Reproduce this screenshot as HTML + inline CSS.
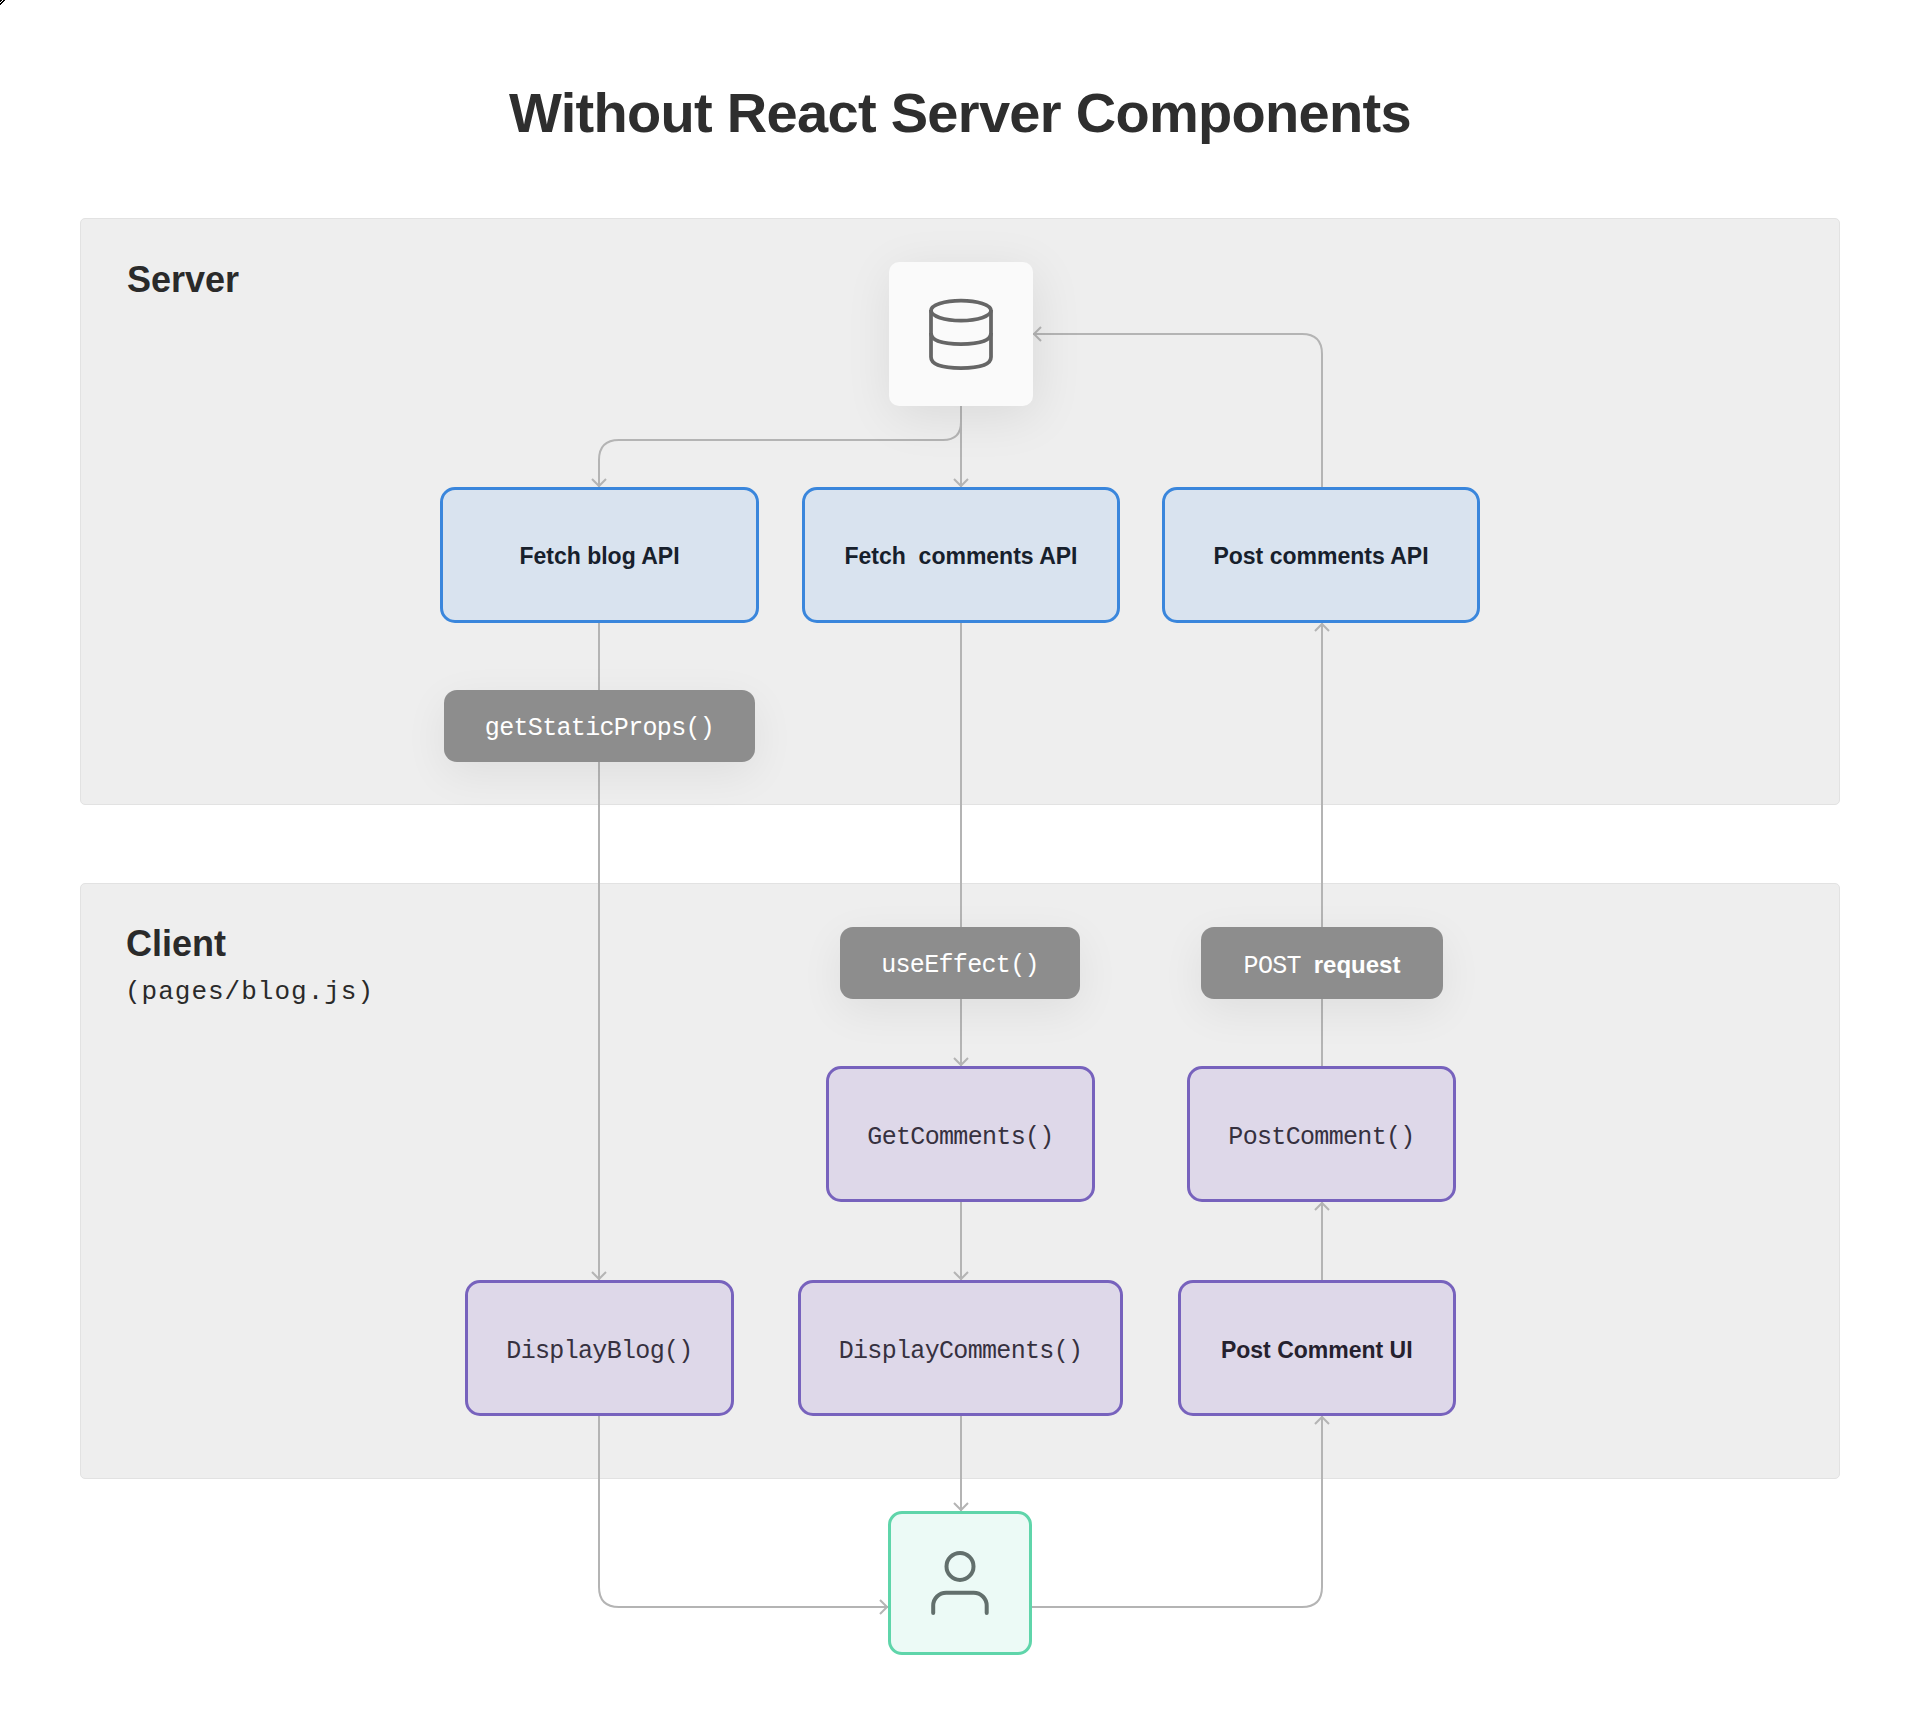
<!DOCTYPE html>
<html>
<head>
<meta charset="utf-8">
<style>
html,body{margin:0;padding:0;}
body{width:1920px;height:1733px;position:relative;overflow:hidden;background:#ffffff;font-family:"Liberation Sans",sans-serif;}
.abs{position:absolute;box-sizing:border-box;}
.title{position:absolute;left:0;width:1920px;top:68px;text-align:center;font-weight:bold;font-size:56px;line-height:90px;letter-spacing:-0.7px;color:#2e2e2e;}
.panel{position:absolute;left:80px;width:1760px;background:#eeeeee;border:1px solid #e2e2e2;border-radius:5px;box-sizing:border-box;}
.plabel{position:absolute;font-weight:bold;font-size:36px;color:#2a2a2a;line-height:40px;white-space:nowrap;}
.mono{font-family:"Liberation Mono",monospace;}
.box{position:absolute;box-sizing:border-box;border-radius:15px;display:flex;align-items:center;justify-content:center;white-space:nowrap;}
.blue{border:3px solid #3a86dc;background:#d9e3ef;color:#17202c;font-weight:bold;font-size:23px;padding-top:2px;}
.purple{border:3px solid #7762bd;background:#ded8e9;color:#25212e;font-size:23px;padding-top:4px;}
.pill{background:#8d8d8d;color:#ffffff;font-size:23px;border-radius:13px;box-shadow:0 12px 44px rgba(0,0,0,0.065);padding-top:4px;}
.db{background:#fafafa;border-radius:10px;box-shadow:3px 10px 50px rgba(0,0,0,0.085);}
.user{border:3px solid #5fd5aa;background:#ecfaf6;border-radius:14px;}
svg{position:absolute;left:0;top:0;}
.box.mono{font-size:25px;letter-spacing:-0.67px;}
.box.purple.mono{padding-top:6px;color:#36313f;}
</style>
</head>
<body>
<svg width="8" height="8" viewBox="0 0 8 8" style="position:absolute;left:0;top:0;"><path d="M0 0h2v1H1v1H0z M3 0h2v1H4v1H3v1H2v1H1v1H0V3h1V2h1V1h1z" fill="#000"/></svg>
<div class="title">Without React Server Components</div>

<div class="panel" style="top:218px;height:587px;"></div>
<div class="panel" style="top:883px;height:596px;"></div>

<div class="plabel" style="left:127px;top:260px;">Server</div>
<div class="plabel" style="left:126px;top:924px;">Client</div>
<div class="plabel mono" style="left:125px;top:972px;font-weight:normal;font-size:26px;letter-spacing:1px;">(pages/blog.js)</div>

<!-- connector lines -->
<svg width="1920" height="1733" viewBox="0 0 1920 1733" fill="none" stroke="#b4b4b4" stroke-width="2">
  <path d="M961 406 V422 Q961 440 943 440 H619 Q599 440 599 460 V487"/>
  <path d="M592 479 L599 486 L606 479"/>
  <path d="M961 406 V487"/>
  <path d="M954 479 L961 486 L968 479"/>
  <path d="M1322 487 V354 Q1322 334 1302 334 H1033"/>
  <path d="M1041 327 L1034 334 L1041 341"/>
  <path d="M599 623 V1280"/>
  <path d="M592 1272 L599 1279 L606 1272"/>
  <path d="M961 623 V1066"/>
  <path d="M954 1058 L961 1065 L968 1058"/>
  <path d="M961 1202 V1280"/>
  <path d="M954 1272 L961 1279 L968 1272"/>
  <path d="M961 1416 V1511"/>
  <path d="M954 1503 L961 1510 L968 1503"/>
  <path d="M1322 1066 V623"/>
  <path d="M1315 631 L1322 624 L1329 631"/>
  <path d="M1322 1280 V1202"/>
  <path d="M1315 1210 L1322 1203 L1329 1210"/>
  <path d="M1032 1607 H1302 Q1322 1607 1322 1587 V1416"/>
  <path d="M1315 1424 L1322 1417 L1329 1424"/>
  <path d="M599 1416 V1587 Q599 1607 619 1607 H888"/>
  <path d="M880 1600 L887 1607 L880 1614"/>
</svg>

<!-- DB -->
<div class="abs db" style="left:889px;top:262px;width:144px;height:144px;">
  <svg width="144" height="144" viewBox="0 0 144 144" fill="none" stroke="#666666" stroke-width="3.75">
    <ellipse cx="72" cy="48.6" rx="30" ry="10"/>
    <path d="M42 48 V95 Q42 106 72 106 Q102 106 102 95 V48"/>
    <path d="M42 71 Q42 82 72 82 Q102 82 102 71"/>
  </svg>
</div>

<!-- blue boxes -->
<div class="box blue" style="left:440px;top:487px;width:319px;height:136px;">Fetch blog API</div>
<div class="box blue" style="left:802px;top:487px;width:318px;height:136px;">Fetch&nbsp; comments API</div>
<div class="box blue" style="left:1162px;top:487px;width:318px;height:136px;">Post comments API</div>

<!-- pills -->
<div class="box pill mono" style="left:444px;top:690px;width:311px;height:72px;">getStaticProps()</div>
<div class="box pill mono" style="left:840px;top:927px;width:240px;height:72px;">useEffect()</div>
<div class="box pill" style="left:1201px;top:927px;width:242px;height:72px;"><span class="mono" style="font-size:25px;letter-spacing:-0.67px;position:relative;top:1px;">POST</span>&nbsp;&nbsp;<b style="font-size:24px;">request</b></div>

<!-- purple boxes -->
<div class="box purple mono" style="left:826px;top:1066px;width:269px;height:136px;">GetComments()</div>
<div class="box purple mono" style="left:1187px;top:1066px;width:269px;height:136px;">PostComment()</div>
<div class="box purple mono" style="left:465px;top:1280px;width:269px;height:136px;">DisplayBlog()</div>
<div class="box purple mono" style="left:798px;top:1280px;width:325px;height:136px;">DisplayComments()</div>
<div class="box purple" style="left:1178px;top:1280px;width:277.5px;height:136px;font-weight:bold;">Post Comment UI</div>

<!-- user -->
<div class="abs user" style="left:888px;top:1511px;width:144px;height:144px;">
  <svg width="138" height="138" viewBox="0 0 138 138" fill="none" stroke="#626f6c" stroke-width="4" stroke-linecap="round">
    <circle cx="69" cy="52.4" r="13.5"/>
    <path d="M42.2 99 V91.7 A13 13 0 0 1 55.2 78.7 H82.7 A13 13 0 0 1 95.7 91.7 V99"/>
  </svg>
</div>

</body>
</html>
